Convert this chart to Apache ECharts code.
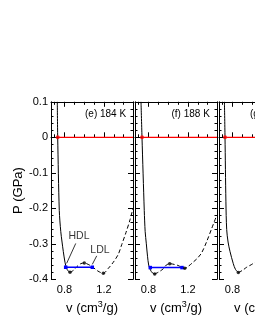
<!DOCTYPE html>
<html>
<head>
<meta charset="utf-8">
<script src="https://cdn.jsdelivr.net/npm/echarts@6/dist/echarts.min.js"></script>
<style>
html,body{margin:0;padding:0;background:#fff;}
#chart{width:255px;height:330px;}
</style>
</head>
<body>
<div id="chart"></div>
<script>
// ---- data (v in cm^3/g, P in GPa) ----
const panelLabels = ['(e) 184 K', '(f) 188 K', '(g) 192 K'];
const yTickLabels = ['-0.4', '-0.3', '-0.2', '-0.1', '0', '0.1'];
const xMajorTicks = [0.8, 1.2];
const xMinorTicks = [0.7, 0.9, 1.0, 1.1, 1.3, 1.4];

const solid184 = [[0.727,0.1],[0.731,0],[0.747,-0.206],[0.762,-0.265],[0.775,-0.295],[0.788,-0.322],[0.805,-0.352],[0.82,-0.368],[0.835,-0.376],[0.856,-0.380]];
const dashed184 = [[0.856,-0.380],[0.89,-0.375],[0.927,-0.364],[0.965,-0.356],[1.001,-0.354],[1.04,-0.358],[1.079,-0.364],[1.14,-0.377],[1.194,-0.383],[1.242,-0.370],[1.295,-0.352],[1.345,-0.330],[1.381,-0.302],[1.424,-0.268],[1.465,-0.232],[1.495,-0.200]];
const extrema184 = [[0.856,-0.380],[1.001,-0.354],[1.194,-0.383]];
const coex184 = [[0.812,-0.366],[1.082,-0.366]];
const zero184 = [[0.731,0],[1.495,0]];

const solid188 = [[0.724,0.1],[0.734,0],[0.757,-0.206],[0.766,-0.265],[0.778,-0.300],[0.79,-0.335],[0.802,-0.360],[0.82,-0.374],[0.84,-0.382],[0.863,-0.385]];
const dashed188 = [[0.863,-0.385],[0.9,-0.380],[0.947,-0.371],[0.98,-0.360],[1.015,-0.356],[1.06,-0.358],[1.1,-0.361],[1.135,-0.366],[1.168,-0.369],[1.21,-0.362],[1.252,-0.352],[1.295,-0.341],[1.338,-0.326],[1.39,-0.294],[1.441,-0.257],[1.492,-0.220]];
const extrema188 = [[0.863,-0.385],[1.015,-0.356],[1.168,-0.369]];
const coex188 = [[0.818,-0.367],[1.14,-0.367]];
const zero188 = [[0.734,0],[1.495,0]];

const solid192 = [[0.718,0.1],[0.724,0],[0.733,-0.18],[0.741,-0.26],[0.755,-0.295],[0.775,-0.322],[0.808,-0.356],[0.83,-0.372],[0.859,-0.381]];
const dashed192 = [[0.859,-0.381],[0.9,-0.375],[0.944,-0.366],[0.99,-0.359],[1.03,-0.352],[1.07,-0.347]];
const extrema192 = [[0.859,-0.381]];
const zero192 = [[0.724,0],[1.495,0]];

const annHDL = {text:'HDL', at:[0.947,-0.277], from:[0.914,-0.299], to:[0.822,-0.355]};
const annLDL = {text:'LDL', at:[1.16,-0.317], from:[1.127,-0.334], to:[1.082,-0.358]};

// ---- layout ----
const X_MIN = 0.663, X_MAX = 1.495;
const gridLefts = [51, 135, 219];
const labelLefts = [85, 171.5, 250];
const GRID_TOP = 101.8, GRID_W = 82, GRID_H = 177.5;
const FONT = "'Liberation Sans', Arial, Helvetica, sans-serif";

const panels = [
  {solid:solid184, dashed:dashed184, ext:extrema184, coex:coex184, zero:zero184},
  {solid:solid188, dashed:dashed188, ext:extrema188, coex:coex188, zero:zero188},
  {solid:solid192, dashed:dashed192, ext:extrema192, coex:null, zero:zero192}
];

const grids = [], xAxes = [], yAxes = [], series = [], graphics = [];

gridLefts.forEach((left, i) => {
  grids.push({left:left, top:GRID_TOP, width:GRID_W, height:GRID_H, containLabel:false, outerBoundsMode:'none'});
  const base = {type:'value', gridIndex:i, min:X_MIN, max:X_MAX, splitLine:{show:false}};
  const line = {show:true, lineStyle:{color:'#000', width:1}};
  // bottom major
  xAxes.push(Object.assign({}, base, {
    position:'bottom', axisLine:line,
    axisTick:{show:true, inside:true, length:5, customValues:xMajorTicks, lineStyle:{color:'#000'}},
    axisLabel:{show:true, customValues:xMajorTicks, margin:5, color:'#000', fontSize:11, fontFamily:FONT,
      formatter:v=>v.toFixed(1)},
    name:'v (cm{s|3}/g)', nameLocation:'middle', nameGap:20,
    nameTextStyle:{color:'#000', fontSize:13, fontFamily:FONT,
      rich:{s:{fontSize:9, fontFamily:FONT, color:'#000', padding:[0,0,8,0]}}}
  }));
  // bottom minor
  xAxes.push(Object.assign({}, base, {
    position:'bottom', axisLine:{show:false},
    axisTick:{show:true, inside:true, length:3, customValues:xMinorTicks, lineStyle:{color:'#000'}},
    axisLabel:{show:false}
  }));
  // top major
  xAxes.push(Object.assign({}, base, {
    position:'top', axisLine:line,
    axisTick:{show:true, inside:true, length:5, customValues:xMajorTicks, lineStyle:{color:'#000'}},
    axisLabel:{show:false}
  }));
  // top minor
  xAxes.push(Object.assign({}, base, {
    position:'top', axisLine:{show:false},
    axisTick:{show:true, inside:true, length:3, customValues:xMinorTicks, lineStyle:{color:'#000'}},
    axisLabel:{show:false}
  }));
  const ybase = {type:'value', gridIndex:i, min:-0.4, max:0.1, interval:0.1,
    axisLine:line, splitLine:{show:false}, minorSplitLine:{show:false},
    axisTick:{show:true, inside:true, length:5, lineStyle:{color:'#000'}},
    minorTick:{show:true, splitNumber:5, length:2.5, lineStyle:{color:'#000'}}};
  yAxes.push(Object.assign({}, ybase, {
    position:'left',
    axisLabel:{show:i===0, margin:3, color:'#000', fontSize:11, fontFamily:FONT,
      formatter:v=>{const k=Math.round(v*10); return yTickLabels[k+4];}},
    name: i===0 ? 'P (GPa)' : '', nameLocation:'middle', nameGap:25, nameRotate:90,
    nameTextStyle:{color:'#000', fontSize:13, fontFamily:FONT}
  }));
  yAxes.push(Object.assign({}, ybase, {position:'right', axisLabel:{show:false}}));

  const p = panels[i];
  const xi = i*4, yi = i*2;
  series.push({type:'line', xAxisIndex:xi, yAxisIndex:yi, data:p.zero, symbol:'none',
    lineStyle:{color:'#ff0000', width:1.2}, silent:true, z:2});
  series.push({type:'scatter', xAxisIndex:xi, yAxisIndex:yi, data:[p.zero[0]], symbol:'circle', symbolSize:4,
    itemStyle:{color:'#ff0000'}, z:6});
  series.push({type:'line', xAxisIndex:xi, yAxisIndex:yi, data:p.solid, symbol:'none', smooth:0.3,
    lineStyle:{color:'#000', width:1}, z:3});
  series.push({type:'line', xAxisIndex:xi, yAxisIndex:yi, data:p.dashed, symbol:'none', smooth:0.3,
    lineStyle:{color:'#000', width:1, type:[4,2.5]}, z:3});
  series.push({type:'scatter', xAxisIndex:xi, yAxisIndex:yi, data:p.ext, symbol:'circle', symbolSize:3.5,
    itemStyle:{color:'#000'}, z:5});
  if (p.coex) {
    series.push({type:'line', xAxisIndex:xi, yAxisIndex:yi, data:p.coex, symbol:'rect', symbolSize:3.5,
      showSymbol:true, itemStyle:{color:'#0000ff'}, lineStyle:{color:'#0000ff', width:1.5}, z:4});
  }
  graphics.push({type:'text', x:labelLefts[i], y:GRID_TOP+12.5,
    style:{text:panelLabels[i], fill:'#000', font:'10px '+FONT, textAlign:'left', textVerticalAlign:'middle'}});
});

// annotations in panel 1
[annHDL, annLDL].forEach(a => {
  series.push({type:'scatter', xAxisIndex:0, yAxisIndex:0, data:[a.at], symbolSize:0, z:7,
    label:{show:true, position:'inside', formatter:a.text, color:'#000', fontSize:10.5, fontFamily:FONT},
    markLine:{silent:true, symbol:['none','arrow'], symbolSize:[0,5], animation:false,
      lineStyle:{color:'#000', width:0.8, type:'solid'}, label:{show:false},
      data:[[{coord:a.from},{coord:a.to}]]}});
});

const chart = echarts.init(document.getElementById('chart'), null, {renderer:'canvas'});
chart.setOption({
  animation:false,
  backgroundColor:'#fff',
  textStyle:{fontFamily:FONT},
  grid:grids, xAxis:xAxes, yAxis:yAxes, series:series, graphic:graphics
});
</script>
</body>
</html>
